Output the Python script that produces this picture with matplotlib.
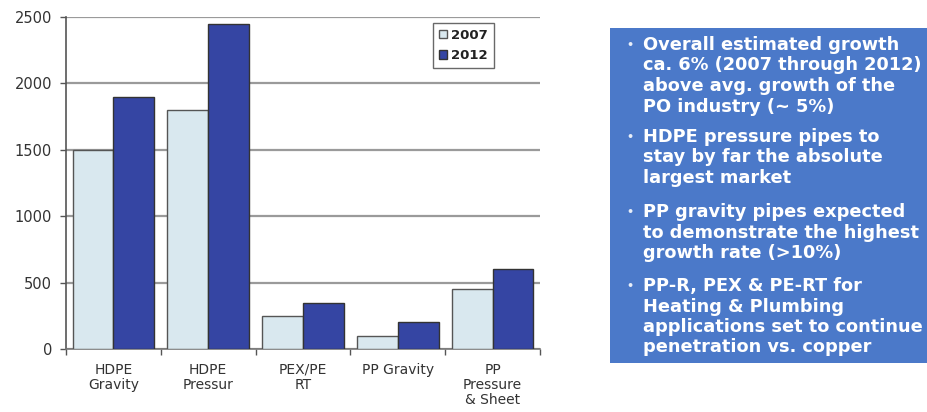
import matplotlib
matplotlib.use("Agg")
import matplotlib.pyplot as plt
from matplotlib.patches import Rectangle
import numpy as np

plt.rcParams['font.family'] = ['DejaVu Sans']

categories = ["HDPE\nGravity", "HDPE\nPressur", "PEX/PE\nRT", "PP Gravity", "PP\nPressure\n& Sheet"]
values_2007 = [1500, 1800, 250, 100, 450]
values_2012 = [1900, 2450, 350, 200, 600]
series_labels = ["2007", "2012"]
y_ticks = [0, 500, 1000, 1500, 2000, 2500]

bullets = [
    ["Overall estimated growth", "ca. 6% (2007 through 2012)", "above avg. growth of the", "PO industry (~ 5%)"],
    ["HDPE pressure pipes to", "stay by far the absolute", "largest market"],
    ["PP gravity pipes expected", "to demonstrate the highest", "growth rate (>10%)"],
    ["PP-R, PEX & PE-RT for", "Heating & Plumbing", "applications set to continue", "penetration vs. copper"],
]

W, H = 927, 412
fig = plt.figure(figsize=(W / 100, H / 100), dpi=100)
fig.patch.set_facecolor("white")

ax = fig.add_axes([66 / W, 1 - 349 / H, (540 - 66) / W, (349 - 17) / H])
x = np.arange(len(categories))
bw = 0.43
c07 = "#d9e8ef"
c12 = "#3545a3"
ax.bar(x - bw / 2, values_2007, bw, color=c07, edgecolor="#555555", linewidth=1.0, label=series_labels[0], zorder=3)
ax.bar(x + bw / 2, values_2012, bw, color=c12, edgecolor="#333333", linewidth=1.0, label=series_labels[1], zorder=3)

ax.set_xlim(-0.5, len(categories) - 0.5)
ax.set_ylim(0, 2500)
ax.set_yticks(y_ticks)
ax.set_yticklabels([str(v) for v in y_ticks], fontsize=10.5, color="#333333")
ax.yaxis.grid(True, color="#9a9a9a", linewidth=1.6, zorder=0)
ax.set_axisbelow(True)

ax.set_xticks(x)
ax.set_xticklabels(categories, fontsize=10, color="#333333", linespacing=1.1)
ax.tick_params(axis="x", length=0, pad=10)
ax.set_xticks(np.arange(len(categories) + 1) - 0.5, minor=True)
ax.tick_params(axis="x", which="minor", length=4, color="#555555", width=1)
ax.tick_params(axis="y", length=4, color="#555555", width=1, pad=6)

for s in ["top", "right"]:
    ax.spines[s].set_visible(False)
ax.spines["left"].set_color("#555555")
ax.spines["left"].set_linewidth(1.2)
ax.spines["bottom"].set_color("#777777")
ax.spines["bottom"].set_linewidth(1.2)

leg = ax.legend(loc="upper right", bbox_to_anchor=(494 / W, 1 - 23 / H), bbox_transform=fig.transFigure,
                fontsize=9.5, frameon=True, fancybox=False, handlelength=0.6, handleheight=0.6,
                handletextpad=0.35, borderpad=0.45, labelspacing=0.55, borderaxespad=0)
leg.get_frame().set_edgecolor("#444444")
leg.get_frame().set_linewidth(1.0)
for t in leg.get_texts():
    t.set_fontweight("bold")
    t.set_color("#222222")

# Summary box on the right
fig.patches.append(Rectangle((610 / W, 1 - 363 / H), (W - 610) / W, (363 - 28) / H,
                             transform=fig.transFigure, facecolor="#4b79c9", edgecolor="none"))

group_starts = [45, 137, 212, 286]
line_step = 20.5
for start, lines in zip(group_starts, bullets):
    fig.text(626 / W, 1 - start / H, "\u2022", color="#e8eef8", fontsize=8, fontweight="bold",
             ha="left", va="center")
    for i, line in enumerate(lines):
        fig.text(643 / W, 1 - (start + i * line_step) / H, line, color="white", fontsize=12.8,
                 fontweight="bold", ha="left", va="center")

fig.savefig("out.png", dpi=100)
